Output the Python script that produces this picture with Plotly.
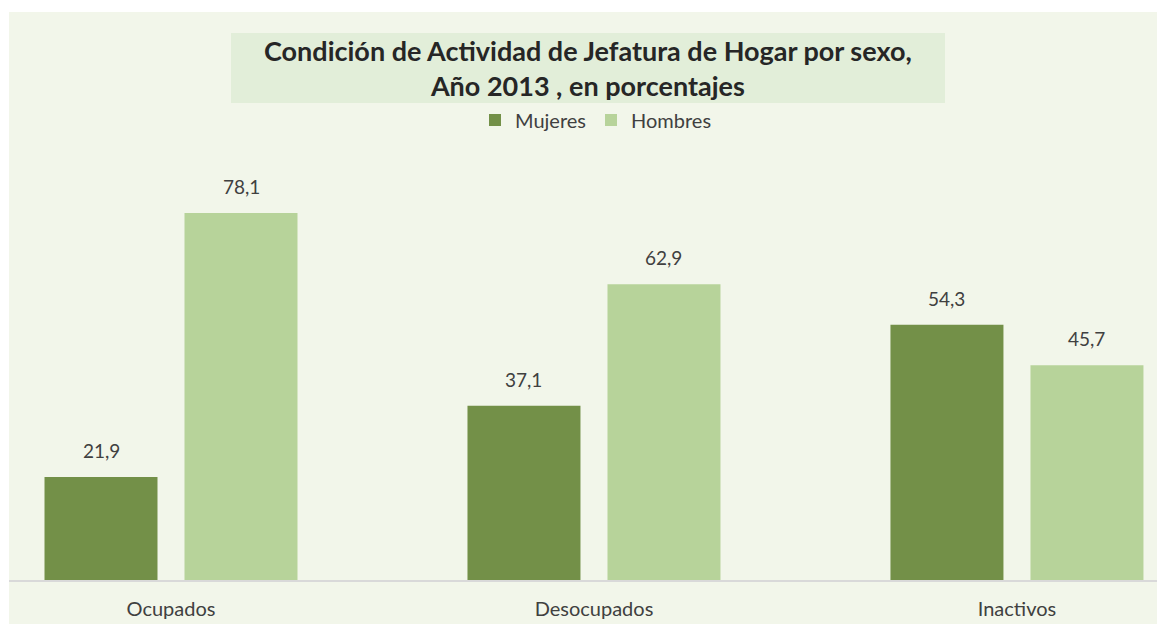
import plotly.graph_objects as go

categories = ["Ocupados", "Desocupados", "Inactivos"]
mujeres = [21.9, 37.1, 54.3]
hombres = [78.1, 62.9, 45.7]
series_names = ["Mujeres", "Hombres"]
title_lines = ["Condición de Actividad de Jefatura de Hogar por sexo,", "Año 2013 , en porcentajes"]

DARK = "#739048"
LIGHT = "#B7D39A"
BG = "#F2F6EA"
TITLE_BG = "#E2EED9"
TXT = "#404040"
FONT = "Lato"

OFF = 8  # page body margin
W, H = 1165 - OFF, 624 - OFF
ml, mr, mt = 9 - OFF, 0, 12 - OFF
axis_y = 580 - OFF
mb = H - axis_y
pw = W - ml - mr
ph = H - mt - mb

fig = go.Figure()
fig.add_trace(go.Bar(x=categories, y=mujeres, name=series_names[0], marker=dict(color=DARK, line=dict(width=0))))
fig.add_trace(go.Bar(x=categories, y=hombres, name=series_names[1], marker=dict(color=LIGHT, line=dict(width=0))))

def fmt(v):
    return f"{v:.1f}".replace(".", ",")

for vals, shift in ((mujeres, -70), (hombres, 70)):
    for c, v in zip(categories, vals):
        fig.add_annotation(x=c, y=v, xref="x", yref="y", text=fmt(v), showarrow=False,
                           xshift=shift, yshift=13, yanchor="bottom",
                           font=dict(family=FONT, size=19, color=TXT))

def px_x(p):
    return (p - OFF - ml) / pw

def px_y(p):
    return (axis_y - (p - OFF)) / ph

fig.add_shape(type="rect", xref="paper", yref="paper", x0=px_x(231), x1=px_x(945),
              y0=px_y(103), y1=px_y(33), fillcolor=TITLE_BG, line=dict(width=0), layer="below")
fig.add_annotation(xref="paper", yref="paper", x=px_x(588), y=px_y(68), text="<br>".join(title_lines),
                   showarrow=False, xanchor="center", yanchor="middle", align="center",
                   font=dict(family=FONT, size=27, color="#262626", weight="bold"))
fig.add_shape(type="rect", xref="paper", yref="paper", x0=0, x1=1, y0=-mb / ph, y1=0,
              fillcolor=BG, line=dict(width=0), layer="below")

fig.update_layout(
    width=W, height=H,
    margin=dict(l=ml, r=mr, t=mt, b=mb, pad=0),
    paper_bgcolor="white", plot_bgcolor=BG,
    barmode="group", bargap=0.338, bargroupgap=0.193,
    showlegend=True,
    legend=dict(orientation="h", x=px_x(596), y=px_y(120), xanchor="center", yanchor="middle",
                font=dict(family=FONT, size=20, color=TXT), bgcolor="rgba(0,0,0,0)"),
    xaxis=dict(type="category", range=[-0.383, 2.35], showline=True, linecolor="#D9D9D9", linewidth=1.5,
               ticks="", showgrid=False, tickfont=dict(family=FONT, size=20, color=TXT),
               ticklabelstandoff=10),
    yaxis=dict(range=[0, ph / 4.7], visible=False, showgrid=False, zeroline=False),
    font=dict(family=FONT),
)

fig.write_html("out.html")
